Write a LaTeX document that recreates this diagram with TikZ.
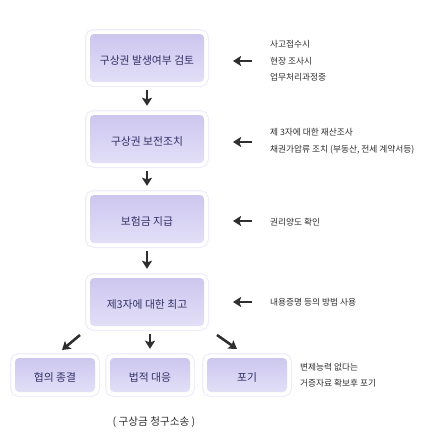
\documentclass[tikz,border=0pt]{standalone}
\usepackage{fontspec}
\setmainfont{Noto Sans CJK KR}
\usetikzlibrary{arrows.meta}
\definecolor{boxtop}{HTML}{CDC7EF}
\definecolor{boxbot}{HTML}{E2DFF7}
\definecolor{glow}{HTML}{EFEDF9}
\definecolor{boxtext}{HTML}{342F66}
\definecolor{notetext}{HTML}{2E2E2E}
\definecolor{arrowc}{HTML}{2F2F2F}
\begin{document}
\begin{tikzpicture}[x=1pt,y=-1pt,
  stepbox/.style={rounded corners=4pt, top color=boxtop, bottom color=boxbot, draw=none,
    minimum width=114pt, minimum height=48pt, inner sep=0pt, text=boxtext,
    font=\fontsize{10.8}{12}\selectfont, text height=13.5pt,
    preaction={draw=glow, line width=10pt},
    preaction={draw=white, line width=7.5pt}},
  endbox/.style={stepbox, minimum width=80pt, minimum height=34pt},
  note/.style={anchor=west, align=left, inner sep=0pt, text=notetext,
    font=\fontsize{8.7}{16.5}\selectfont},
  arr/.style={draw=arrowc, line width=2.6pt, -{Stealth[length=8pt, width=10pt, inset=1.5pt]}},
  darr/.style={arr, shorten <=8pt, shorten >=9pt}
]
\useasboundingbox (0,0) rectangle (430,440);

% main column
\node[stepbox] (b1) at (147,58) {구상권 발생여부 검토};
\node[stepbox] (b2) at (147,139) {구상권 보전조치};
\node[stepbox] (b3) at (147,219) {보험금 지급};
\node[stepbox] (b4) at (147,302) {제3자에 대한 최고};

% end boxes
\node[endbox] (bA) at (55,375) {협의 종결};
\node[endbox] (bB) at (150,375) {법적 대응};
\node[endbox] (bC) at (247,375) {포기};

% caption
\node[inner sep=0pt, text=notetext, font=\fontsize{10.6}{12}\selectfont] (cap) at (154,422) {( 구상금 청구소송 )};

% notes
\node[note] (n1) at (270,61) {사고접수시\\현장 조사시\\업무처리과정중};
\node[note] (n2) at (270,141.5) {제 3자에 대한 재산조사\\채권가압류 조치 (부동산, 전세 계약서등)};
\node[note] (n3) at (270,222) {권리양도 확인};
\node[note] (n4) at (270,302) {내용증명 등의 방법 사용};
\node[note] (n5) at (300,375) {변제능력 없다는\\거증자료 확보후 포기};

% vertical flow arrows
\draw[darr] (b1) -- (b2);
\draw[darr] (b2) -- (b3);
\draw[darr] (b3) -- (b4);
\draw[darr] (b4.south -| bB.north) -- (bB);

% left-pointing arrows from notes
\foreach \i/\y in {1/61,2/142,3/221,4/302}{
  \coordinate (ls\i) at (252,\y);
  \coordinate (le\i) at (233,\y);
  \draw[arr] (ls\i) -- (le\i);
}

% diagonal arrows
\coordinate (dAs) at (80,335);
\coordinate (dAe) at (62,350);
\coordinate (dCs) at (217,335);
\coordinate (dCe) at (237,349);
\draw[arr] (dAs) -- (dAe);
\draw[arr] (dCs) -- (dCe);
\end{tikzpicture}
\end{document}
